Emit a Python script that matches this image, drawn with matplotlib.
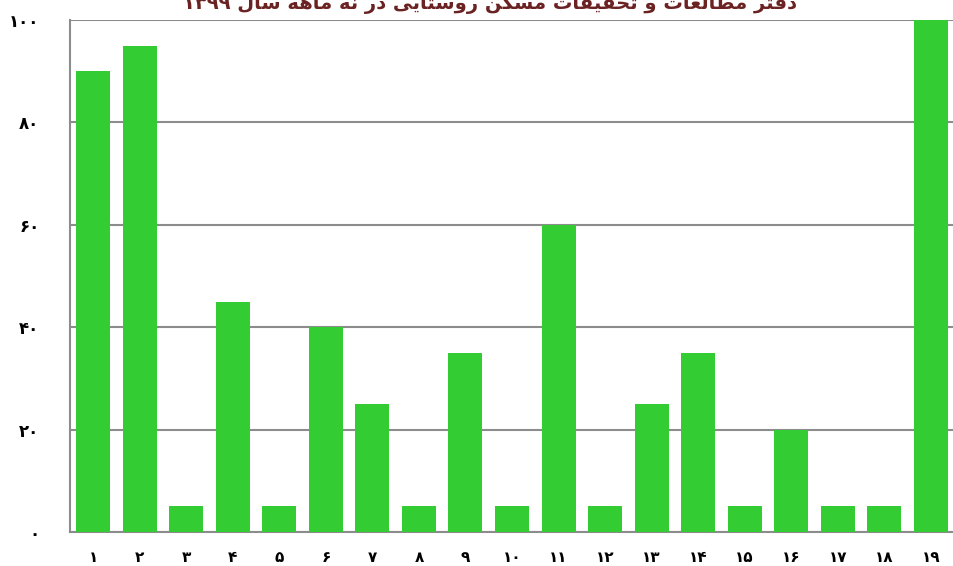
import matplotlib.pyplot as plt

# datos
categorias = ["۱", "۲", "۳", "۴", "۵", "۶", "۷", "۸", "۹", "۱۰",
              "۱۱", "۱۲", "۱۳", "۱۴", "۱۵", "۱۶", "۱۷", "۱۸", "۱۹"]
valores = [90, 95, 5, 45, 5, 40, 25, 5, 35, 5, 60, 5, 25, 35, 5, 20, 5, 5, 100]
ticks_y = [0, 20, 40, 60, 80, 100]
etiquetas_y = ["۰", "۲۰", "۴۰", "۶۰", "۸۰", "۱۰۰"]
titulo = "دفتر مطالعات و تحقیقات مسکن روستایی در نه ماهه سال ۱۳۹۹"

# formas de presentacion: (aislada, final, inicial, media)
FORMAS = {
    "ا": ("\uFE8D", "\uFE8E", None, None),
    "د": ("\uFEA9", "\uFEAA", None, None),
    "ر": ("\uFEAD", "\uFEAE", None, None),
    "و": ("\uFEED", "\uFEEE", None, None),
    "ت": ("\uFE95", "\uFE96", "\uFE97", "\uFE98"),
    "ح": ("\uFEA1", "\uFEA2", "\uFEA3", "\uFEA4"),
    "س": ("\uFEB1", "\uFEB2", "\uFEB3", "\uFEB4"),
    "ط": ("\uFEC1", "\uFEC2", "\uFEC3", "\uFEC4"),
    "ع": ("\uFEC9", "\uFECA", "\uFECB", "\uFECC"),
    "ف": ("\uFED1", "\uFED2", "\uFED3", "\uFED4"),
    "ق": ("\uFED5", "\uFED6", "\uFED7", "\uFED8"),
    "ل": ("\uFEDD", "\uFEDE", "\uFEDF", "\uFEE0"),
    "م": ("\uFEE1", "\uFEE2", "\uFEE3", "\uFEE4"),
    "ن": ("\uFEE5", "\uFEE6", "\uFEE7", "\uFEE8"),
    "ه": ("\uFEE9", "\uFEEA", "\uFEEB", "\uFEEC"),
    "ی": ("\uFBFC", "\uFBFD", "\uFBFE", "\uFBFF"),
    "ک": ("\uFB8E", "\uFB8F", "\uFB90", "\uFB91"),
}


def une_izq(c):
    return c in FORMAS and FORMAS[c][2] is not None


def formar_palabra(palabra):
    res = []
    for i, c in enumerate(palabra):
        if c not in FORMAS:
            res.append(c)
            continue
        prev = palabra[i - 1] if i > 0 else None
        sig = palabra[i + 1] if i + 1 < len(palabra) else None
        con_prev = prev is not None and une_izq(prev)
        con_sig = sig is not None and sig in FORMAS and une_izq(c)
        iso, fin, ini, med = FORMAS[c]
        if con_prev and con_sig:
            res.append(med)
        elif con_prev:
            res.append(fin)
        elif con_sig:
            res.append(ini)
        else:
            res.append(iso)
    return "".join(res)


def texto_visual(texto):
    palabras = []
    for p in texto.split(" "):
        if p[0] in FORMAS:
            palabras.append(formar_palabra(p)[::-1])
        else:
            palabras.append(p)
    return " ".join(palabras[::-1])


plt.rcParams['font.family'] = ['DejaVu Sans']

fig = plt.figure(figsize=(9.54, 5.66), dpi=100)
ax = fig.add_axes([70 / 954, 34 / 566, 884 / 954, 512 / 566])

x = list(range(len(categorias)))
ax.bar(x, valores, width=0.73, color='#33cc33', zorder=3)

ax.set_xlim(-0.5, len(categorias) - 0.5)
ax.set_ylim(0, 100)
ax.set_yticks(ticks_y)
ax.set_yticklabels(etiquetas_y, fontweight='bold', fontsize=12)
ax.set_xticks(x)
ax.set_xticklabels(categorias, fontweight='bold', fontsize=11)
ax.tick_params(axis='y', length=0, pad=22)
ax.tick_params(axis='x', length=0, pad=13)

ax.grid(axis='y', color='#8c8c8c', linewidth=1.5, zorder=0)
for lado in ['top', 'right']:
    ax.spines[lado].set_visible(False)
for lado in ['left', 'bottom']:
    ax.spines[lado].set_color('#8c8c8c')
    ax.spines[lado].set_linewidth(1.5)

fig.text(490 / 954, 1 - 9 / 566, texto_visual(titulo), ha='center', va='baseline',
         fontsize=14, fontweight='bold', color='#6b2222')

fig.savefig('out.png', dpi=100)
